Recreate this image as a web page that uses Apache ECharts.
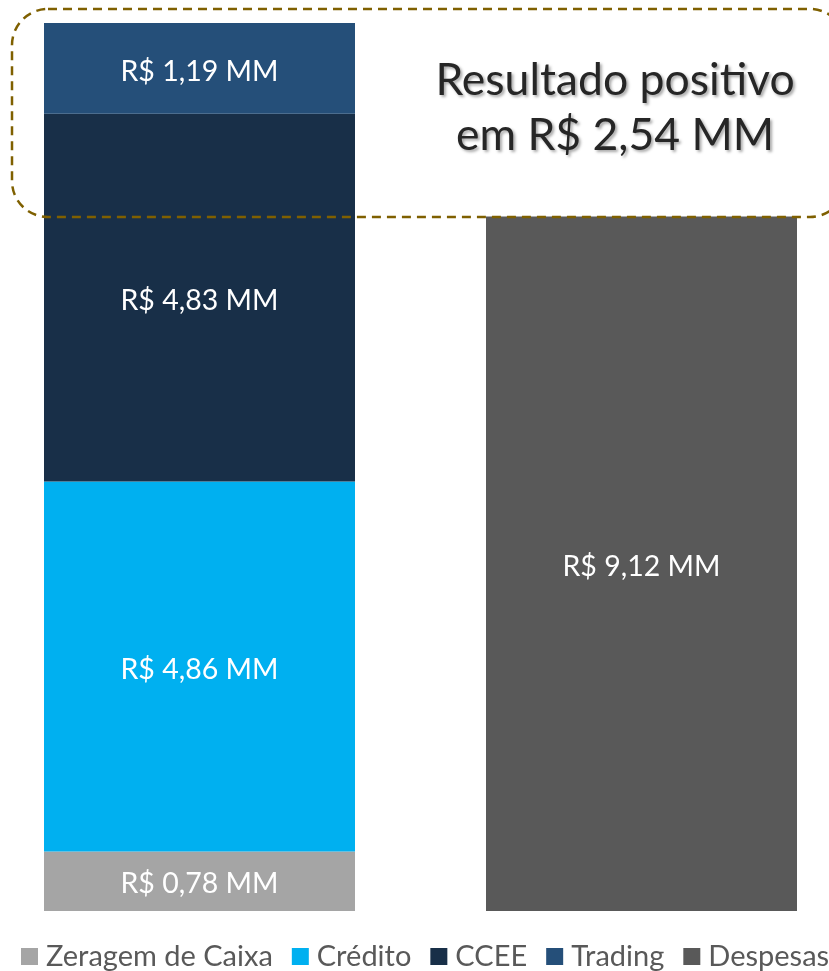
<!DOCTYPE html>
<html>
<head>
<meta charset="utf-8">
<script src="https://cdn.jsdelivr.net/npm/echarts@6/dist/echarts.min.js"></script>
<style>
  html, body { margin: 0; padding: 0; background: #fff; }
  #chart { width: 829px; height: 971px; }
</style>
</head>
<body>
<div id="chart"></div>
<script>
// categorias (duas colunas: receitas x despesas)
const categories = ['Receitas', 'Despesas']
// valores em R$ milhões
const zeragem = [0.78, '-']
const credito = [4.86, '-']
const ccee = [4.83, '-']
const trading = [1.19, '-']
const despesas = ['-', 9.12]
const resultado = 2.54

const fmt = (v) => 'R$ ' + Number(v).toFixed(2).replace('.', ',') + ' MM'
const font = 'Lato, "Open Sans", sans-serif'

const mChart = echarts.init(document.getElementById('chart'))

const label = {
  show: true,
  position: 'inside',
  offset: [0, 3],
  color: '#ffffff',
  fontSize: 28.5,
  fontFamily: font,
  formatter: (p) => fmt(p.value)
}

const mkSeries = (name, data, color) => ({
  name: name,
  type: 'bar',
  stack: 'total',
  barWidth: 311,
  data: data,
  itemStyle: { color: color },
  label: label,
  emphasis: { disabled: true }
})

const options = {
  animation: false,
  grid: { left: -21.5, width: 884, top: 23, bottom: 60, outerBoundsMode: 'none' },
  xAxis: {
    type: 'category',
    data: categories,
    show: false
  },
  yAxis: {
    type: 'value',
    min: 0,
    max: 11.66,
    show: false
  },
  legend: {
    left: 16,
    top: 937,
    width: 1400,
    itemWidth: 17,
    itemHeight: 17,
    itemGap: 19,
    icon: 'rect',
    textStyle: {
      color: '#595959',
      fontSize: 29,
      fontFamily: font,
      padding: [0, 0, 0, 3]
    },
    data: ['Zeragem de Caixa', 'Crédito', 'CCEE', 'Trading', 'Despesas']
  },
  series: [
    mkSeries('Zeragem de Caixa', zeragem, '#a5a5a5'),
    mkSeries('Crédito', credito, '#00b0f0'),
    mkSeries('CCEE', ccee, '#182f48'),
    mkSeries('Trading', trading, '#254f79'),
    mkSeries('Despesas', despesas, '#595959')
  ],
  graphic: [
    {
      type: 'rect',
      z: 100,
      shape: { x: 12, y: 9, width: 834, height: 208, r: 36 },
      style: { fill: 'none', stroke: '#7f6000', lineWidth: 2.5, lineDash: [9, 6] }
    },
    {
      type: 'text',
      z: 101,
      x: 615,
      y: 108,
      style: {
        text: 'Resultado positivo\nem ' + fmt(resultado),
        fill: '#262626',
        font: '44.5px ' + font,
        lineHeight: 55,
        align: 'center',
        verticalAlign: 'middle',
        textShadowColor: 'rgba(0,0,0,0.35)',
        textShadowBlur: 3,
        textShadowOffsetX: 2,
        textShadowOffsetY: 2
      }
    }
  ]
}

mChart.setOption(options)
</script>
</body>
</html>
